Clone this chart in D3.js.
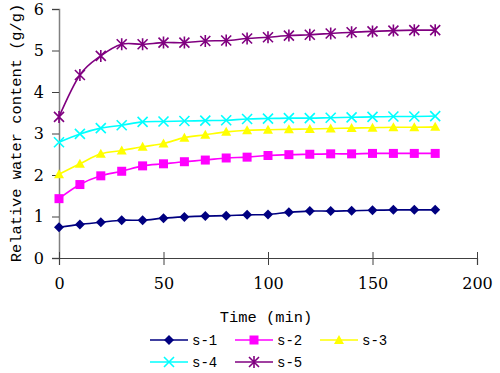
<!DOCTYPE html>
<html>
<head>
<meta charset="utf-8">
<script src="https://cdn.jsdelivr.net/npm/d3@7"></script>
<style>
  body { margin: 0; background: #fff; }
  svg { display: block; }
  text.serif { font-family: "DejaVu Serif", "Liberation Serif", serif; }
  text.mono { font-family: "Liberation Mono", "DejaVu Sans Mono", monospace; }
</style>
</head>
<body>
<svg id="chart" width="500" height="373"></svg>
<script>
const times = d3.range(0, 181, 10)

const s1 = [0.74, 0.81, 0.86, 0.91, 0.91, 0.96, 0.99, 1.01, 1.02, 1.04, 1.05, 1.10, 1.13, 1.13, 1.14, 1.15, 1.16, 1.16, 1.16]
const s2 = [1.43, 1.77, 1.98, 2.09, 2.22, 2.27, 2.32, 2.36, 2.41, 2.43, 2.47, 2.49, 2.50, 2.51, 2.51, 2.52, 2.52, 2.52, 2.52]
const s3 = [2.02, 2.27, 2.51, 2.59, 2.68, 2.76, 2.90, 2.97, 3.04, 3.08, 3.09, 3.10, 3.11, 3.12, 3.13, 3.14, 3.15, 3.15, 3.16]
const s4 = [2.79, 2.99, 3.13, 3.20, 3.28, 3.29, 3.30, 3.31, 3.32, 3.35, 3.36, 3.37, 3.37, 3.38, 3.39, 3.40, 3.41, 3.41, 3.42]
const s5 = [3.40, 4.41, 4.87, 5.15, 5.15, 5.19, 5.19, 5.23, 5.24, 5.29, 5.32, 5.36, 5.38, 5.41, 5.44, 5.46, 5.48, 5.49, 5.49]

const xTicks = [0, 50, 100, 150, 200]
const yTicks = [0, 1, 2, 3, 4, 5, 6]

const series = [
  { name: "s-1", values: s1, color: "#000080", shape: "diamond" },
  { name: "s-2", values: s2, color: "#ff00ff", shape: "square" },
  { name: "s-3", values: s3, color: "#ffff00", shape: "triangle" },
  { name: "s-4", values: s4, color: "#00ffff", shape: "cross" },
  { name: "s-5", values: s5, color: "#800080", shape: "star" }
]

const svg = d3.select("#chart")
const x = d3.scaleLinear().domain([0, 200]).range([59, 477])
const y = d3.scaleLinear().domain([0, 6]).range([258, 9])

// y axis
const yAxis = svg.append("g")
  .attr("transform", `translate(${x(0)},0)`)
  .call(d3.axisLeft(y).tickValues(yTicks).tickSize(7).tickPadding(8).tickFormat(d3.format("d")))
yAxis.attr("font-family", null).attr("font-size", null)
yAxis.select(".domain").attr("stroke", "#808080").attr("stroke-width", 1.5)
yAxis.selectAll(".tick line").attr("stroke", "#404040")
yAxis.selectAll("text").attr("class", "serif").style("font-size", "16px").attr("fill", "#000")

// x axis
const xAxis = svg.append("g")
  .attr("transform", `translate(0,${y(0)})`)
  .call(d3.axisBottom(x).tickValues(xTicks).tickSize(7).tickPadding(13).tickFormat(d3.format("d")))
xAxis.attr("font-family", null).attr("font-size", null)
xAxis.select(".domain").attr("stroke", "#404040").attr("stroke-width", 1.2)
xAxis.selectAll(".tick line").attr("stroke", "#404040").attr("y1", -6)
xAxis.selectAll("text").attr("class", "serif").style("font-size", "16px").attr("fill", "#000")

// axis titles
svg.append("text")
  .attr("class", "mono")
  .attr("transform", "translate(21,133) rotate(-90)")
  .attr("text-anchor", "middle")
  .style("font-size", "15.4px")
  .text("Relative water content (g/g)")

svg.append("text")
  .attr("class", "mono")
  .attr("x", 266).attr("y", 322)
  .attr("text-anchor", "middle")
  .style("font-size", "15.4px")
  .text("Time (min)")

function marker(g, shape, color) {
  if (shape == "diamond") {
    g.append("path").attr("d", "M0,-5L5,0L0,5L-5,0Z").attr("fill", color)
  } else if (shape == "square") {
    g.append("rect").attr("x", -4.5).attr("y", -4.5).attr("width", 9).attr("height", 9).attr("fill", color)
  } else if (shape == "triangle") {
    g.append("path").attr("d", "M0,-5L5,4L-5,4Z").attr("fill", color)
  } else if (shape == "cross") {
    g.append("path").attr("d", "M-5,-5L5,5M-5,5L5,-5").attr("stroke", color).attr("stroke-width", 1.6)
  } else {
    g.append("path").attr("d", "M-5,-5L5,5M-5,5L5,-5M0,-6L0,6").attr("stroke", color).attr("stroke-width", 1.6)
  }
}

const line = d3.line()
  .x((d, i) => x(times[i]))
  .y(d => y(d))
  .curve(d3.curveCardinal.tension(0))

series.forEach(s => {
  svg.append("path")
    .attr("d", line(s.values))
    .attr("fill", "none")
    .attr("stroke", s.color)
    .attr("stroke-width", 1.6)
  s.values.forEach((v, i) => {
    const g = svg.append("g").attr("transform", `translate(${x(times[i])},${y(v)})`)
    marker(g, s.shape, s.color)
  })
})

// legend
const legendPos = [[150, 340], [235, 340], [320, 340], [150, 362], [235, 362]]
series.forEach((s, i) => {
  const [lx, ly] = legendPos[i]
  const g = svg.append("g").attr("transform", `translate(${lx},${ly})`)
  g.append("line").attr("x1", 0).attr("x2", 38).attr("y1", 0).attr("y2", 0)
    .attr("stroke", s.color).attr("stroke-width", 1.6)
  marker(g.append("g").attr("transform", "translate(19,0)"), s.shape, s.color)
  g.append("text").attr("class", "mono").attr("x", 42).attr("y", 5)
    .style("font-size", "14px")
    .text(s.name)
})
</script>
</body>
</html>
